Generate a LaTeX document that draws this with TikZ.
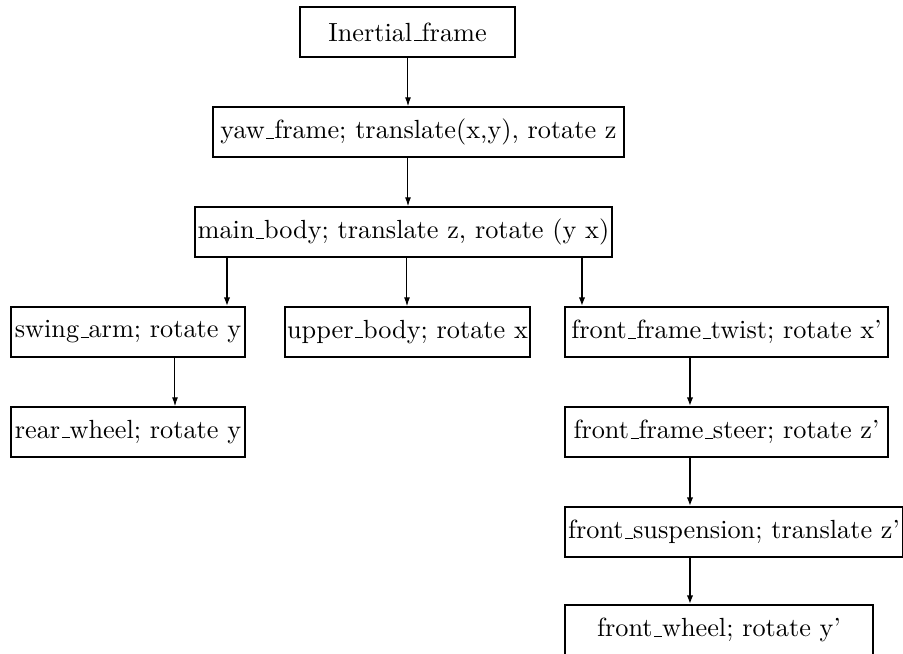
\documentclass[tikz,border=0pt]{standalone}
\usepackage{tikz}
\usetikzlibrary{arrows.meta}
\newcommand\onder{\leavevmode\kern.06em\vbox{\hrule width.3em}}

\begin{document}
\begin{tikzpicture}[x=0.4pt,y=-0.4pt,
	blok/.style={draw,line width=0.6pt,minimum height=20pt,inner sep=0pt,font=\fontsize{10.5}{12}\selectfont},
	pijl/.style={line width=0.4pt,-{Latex[length=3.6pt,width=2.4pt]}},
	dikpijl/.style={line width=0.8pt,-{Latex[length=3.6pt,width=2.6pt]}}]
	\useasboundingbox (0,0) rectangle (903,654);
	
	% frames van boven naar beneden
	\node[blok,minimum width=86pt]   (inertial) at (407.5,32)  {Inertial\onder frame};
	\node[blok,minimum width=164.4pt] (yaw)     at (418.5,132) {yaw\onder frame; translate(x,y), rotate z};
	\node[blok,minimum width=166.8pt] (main)    at (403.5,232) {main\onder body; translate z, rotate (y x)};
	
	% takken onder main_body
	\node[blok,minimum width=93.6pt]  (swing)   at (128,332)   {swing\onder arm; rotate y};
	\node[blok,minimum width=93.6pt]  (rear)    at (128,432)   {rear\onder wheel; rotate y};
	\node[blok,minimum width=98pt]    (upper)   at (407.5,332) {upper\onder body; rotate x};
	\node[blok,minimum width=129.2pt] (twist)   at (726.5,332) {front\onder frame\onder twist; rotate x'};
	\node[blok,minimum width=129.2pt] (steer)   at (726.5,432) {front\onder frame\onder steer; rotate z'};
	\node[blok,minimum width=135.2pt] (susp)    at (734,532)   {front\onder suspension; translate z'};
	\node[blok,minimum width=123.2pt] (wheel)   at (719,630)   {front\onder wheel; rotate y'};
	
	% verbindingen
	\draw[pijl] (inertial.south -| 408,0) -- (yaw.north -| 408,0);
	\draw[pijl] (yaw.south -| 408,0) -- (main.north -| 408,0);
	\draw[dikpijl] (main.south -| 227,0) -- (swing.north -| 227,0);
	\draw[pijl] (main.south -| 407,0) -- (upper.north -| 407,0);
	\draw[dikpijl] (main.south -| 582,0) -- (twist.north -| 582,0);
	\draw[pijl] (swing.south -| 175,0) -- (rear.north -| 175,0);
	\foreach \a/\b in {twist/steer,steer/susp,susp/wheel}
		\draw[dikpijl] (\a.south -| 690,0) -- (\b.north -| 690,0);
\end{tikzpicture}
\end{document}
